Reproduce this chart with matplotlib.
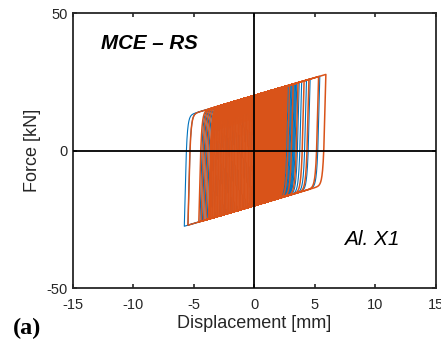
import numpy as np
import matplotlib
matplotlib.use("Agg")
import matplotlib.pyplot as plt

plt.rcParams["font.family"] = ["Liberation Sans", "DejaVu Sans"]
plt.rcParams["axes.unicode_minus"] = False

# reversal points of the displacement history [mm]
blue_pos = [0.5, 0.8, 1.1, 1.4, 1.7, 2.0, 2.2, 2.4, 2.6, 2.7, 2.8, 2.9, 3.0,
            3.1, 3.2, 3.3, 3.4, 3.5, 3.7, 3.9, 4.3, 4.6, 5.4]
blue_neg = [-5.8, -5.5, -4.5, -4.3, -4.1, -3.9, -3.7, -3.5, -3.3, -3.1, -2.9,
            -2.7, -2.5, -2.4, -2.2, -2.0, -1.8, -1.5, -1.2, -0.9, -0.6, -0.4, -0.2]
orange_pos = [0.0, 0.1, 0.2, 0.3, 0.4, 0.5, 0.6, 0.7, 0.8, 0.9, 1.0, 1.1, 1.2,
              1.3, 1.4, 1.5, 1.6, 1.7, 1.8, 1.9, 2.0, 2.1, 2.2, 2.3, 2.4, 2.5,
              2.6, 2.7, 2.9, 3.2, 3.6, 4.1, 4.5, 5.3, 5.9]
orange_neg = [-5.5, -4.6, -4.4, -4.2, -4.0, -3.8, -3.7, -3.6, -3.47, -3.34,
              -3.21, -3.08, -2.95, -2.82, -2.69, -2.56, -2.43, -2.3, -2.17,
              -2.04, -1.91, -1.78, -1.65, -1.52, -1.39, -1.26, -1.13, -1.0,
              -0.87, -0.74, -0.61, -0.48, -0.35, -0.22, -0.1]

# isolator parameters (characteristic strength, post-yield stiffness, yield disp.)
Q, KP, UY, NEXP = 20.0, 1.3, 0.12, 1.0

BLUE, ORANGE = "#0072BD", "#D95319"


def loop(pos, neg):
    # displacement path through the reversals, force from a Bouc-Wen element
    rev = [0.0]
    for a, b in zip(pos, neg):
        rev += [a, b]
    xs, fs = [0.0], [0.0]
    z = 0.0
    for x0, x1 in zip(rev[:-1], rev[1:]):
        n = max(int(abs(x1 - x0) / 0.004), 2)
        path = np.linspace(x0, x1, n)
        for xa, xb in zip(path[:-1], path[1:]):
            dx = xb - xa
            s = 1.0 if dx * z > 0 else 0.0
            z += dx / UY * (1 - s * abs(z) ** NEXP)
            z = min(max(z, -1.0), 1.0)
            xs.append(xb)
            fs.append(KP * xb + Q * z)
    return np.array(xs), np.array(fs)


fig = plt.figure(figsize=(4.41, 3.40), dpi=100)
ax = fig.add_axes([0.1655, 0.1529, 0.8231, 0.8088])

bx, bf = loop(blue_pos, blue_neg)
ox, of = loop(orange_pos, orange_neg)
ax.plot(bx, bf, color=BLUE, lw=0.8, zorder=2)
ax.plot(ox, of, color=ORANGE, lw=1.1, zorder=3)

ax.axhline(0, color="black", lw=1.3, zorder=4)
ax.axvline(0, color="black", lw=1.3, zorder=4)

ax.set_xlim(-15, 15)
ax.set_ylim(-50, 50)
ax.set_xticks([-15, -10, -5, 0, 5, 10, 15])
ax.set_yticks([-50, 0, 50])
ax.tick_params(direction="in", top=True, right=True, length=3, width=1.2,
               labelsize=10.5, colors="#262626")
ax.tick_params(axis="x", pad=7)
ax.tick_params(axis="y", pad=4)
for sp in ax.spines.values():
    sp.set_linewidth(1.3)
    sp.set_color("#262626")

ax.set_xlabel("Displacement [mm]", fontsize=13, color="#262626", labelpad=2)
ax.set_ylabel("Force [kN]", fontsize=13, color="#262626", labelpad=4)

ax.text(-12.7, 39, "MCE – RS", fontsize=14.8, fontweight="bold", style="italic",
        ha="left", va="center", color="black")
ax.text(7.4, -32.5, "Al. X1", fontsize=15, style="italic",
        ha="left", va="center", color="black")
fig.text(27 / 441, 1 - 328 / 340, "(a)", fontsize=17.5, fontweight="bold",
         family="Liberation Serif", ha="center", va="center")

fig.savefig("out.png", dpi=100)
